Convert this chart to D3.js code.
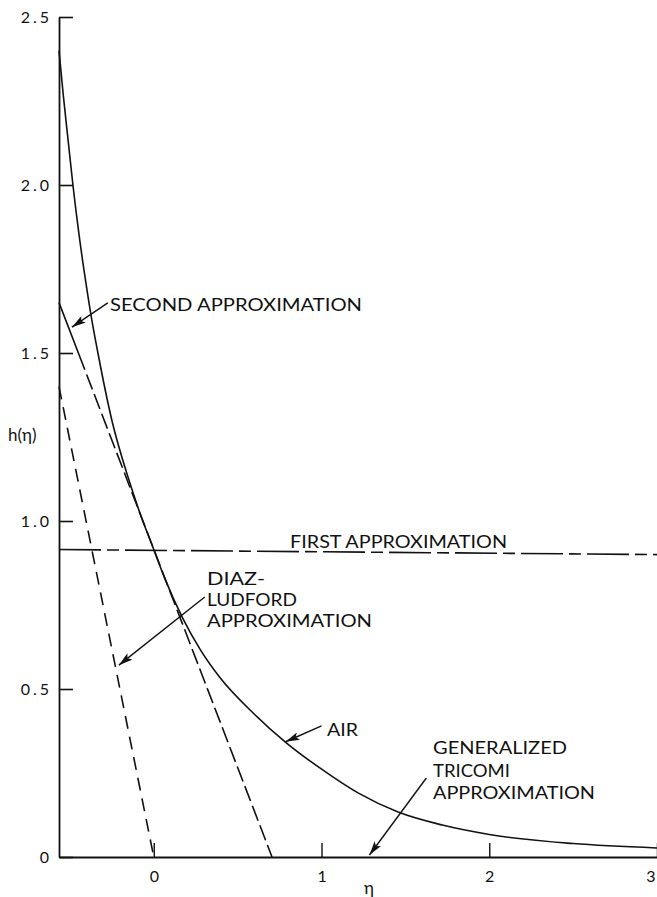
<!DOCTYPE html>
<html>
<head>
<meta charset="utf-8">
<script src="https://cdn.jsdelivr.net/npm/d3@7"></script>
<style>
  html, body { margin: 0; padding: 0; background: #fff; }
  svg { display: block; }
  text { font-family: Lato, "Liberation Sans", sans-serif; fill: #111; }
</style>
</head>
<body>
<svg id="chart" width="657" height="897"></svg>
<script>
// ---------------- data ----------------
const xTicks = [0, 1, 2, 3];
const yTicks = [0, 0.5, 1.0, 1.5, 2.0, 2.5];

// AIR (exact) solution h(eta)
const airEta = [-0.565, -0.54, -0.51, -0.482, -0.445, -0.405, -0.37, -0.333, -0.25, -0.15, -0.08, 0.0, 0.065, 0.173, 0.28, 0.393, 0.6, 0.79, 0.99, 1.22, 1.46, 1.72, 2.0, 2.5, 3.0];
const airH   = [2.40, 2.27, 2.13, 2.00, 1.85, 1.71, 1.60, 1.50, 1.30, 1.125, 1.02, 0.915, 0.83, 0.71, 0.615, 0.535, 0.425, 0.34, 0.265, 0.19, 0.133, 0.095, 0.067, 0.04, 0.027];

// First approximation
const firstEta = [-0.565, 3.0];
const firstH   = [0.915, 0.90];

// Second approximation
const secondEta = [-0.565, 0.705];
const secondH   = [1.65, 0.0];

// Diaz-Ludford approximation
const diazEta = [-0.565, 0.0];
const diazH   = [1.40, 0.0];

// annotation arrows (data units): [fromEta, fromH, toEta, toH]
const arrowSecond  = [-0.274, 1.649, -0.488, 1.577];
const arrowDiaz    = [0.304, 0.774, -0.208, 0.571];
const arrowAir     = [1.0, 0.39, 0.786, 0.343];
const arrowTricomi = [1.625, 0.235, 1.286, 0.006];

// ---------------- chart ----------------
const svg = d3.select("#chart");
const x = d3.scaleLinear().domain([-0.565, 3]).range([59, 657]);
const y = d3.scaleLinear().domain([0, 2.5]).range([857, 17]);

const zip = (a, b) => a.map((v, i) => [v, b[i]]);
const line = d3.line().x(d => x(d[0])).y(d => y(d[1]));
const smooth = d3.line().x(d => x(d[0])).y(d => y(d[1])).curve(d3.curveMonotoneX);

// axes
const yAxis = d3.axisLeft(y).tickValues(yTicks)
  .tickFormat(d => d === 0 ? "0" : d3.format(".1f")(d))
  .tickSizeInner(-14).tickSizeOuter(0).tickPadding(7);
const gy = svg.append("g").attr("transform", `translate(${x(-0.565)},0)`).call(yAxis);
gy.select(".domain").attr("stroke", "#111").attr("stroke-width", 1.8);
gy.selectAll(".tick line").attr("stroke", "#111").attr("stroke-width", 1.6);
gy.selectAll(".tick text").attr("font-size", 16).attr("letter-spacing", 3)
  .style("font-family", "Lato, sans-serif").attr("fill", "#111");

const xAxis = d3.axisBottom(x).tickValues(xTicks).tickFormat(d3.format("d"))
  .tickSizeInner(-14).tickSizeOuter(0).tickPadding(14);
const gx = svg.append("g").attr("transform", `translate(0,${y(0)})`).call(xAxis);
gx.select(".domain").attr("stroke", "#111").attr("stroke-width", 1.8);
gx.selectAll(".tick line").attr("stroke", "#111").attr("stroke-width", 1.4);
gx.selectAll(".tick text").attr("font-size", 16)
  .style("font-family", "Lato, sans-serif").attr("fill", "#111");
// keep the last label inside the picture
gx.selectAll(".tick text").filter(d => d === 3).attr("text-anchor", "end").attr("dx", -2);

// axis titles
svg.append("text").attr("x", 8).attr("y", 441).attr("font-size", 17).text("h(η)");
svg.append("text").attr("x", 364).attr("y", 894).attr("font-size", 17).text("η");

// curves
svg.append("path").datum(zip(airEta, airH)).attr("d", smooth)
  .attr("fill", "none").attr("stroke", "#111").attr("stroke-width", 1.6);

svg.append("path").datum(zip(firstEta, firstH)).attr("d", line)
  .attr("fill", "none").attr("stroke", "#111").attr("stroke-width", 1.6)
  .attr("stroke-dasharray", "42,6,12,6");

const secDash = [72, 5].concat(d3.range(40).flatMap(() => [16, 5])).join(",");
svg.append("path").datum(zip(secondEta, secondH)).attr("d", line)
  .attr("fill", "none").attr("stroke", "#111").attr("stroke-width", 1.6)
  .attr("stroke-dasharray", secDash);

svg.append("path").datum(zip(diazEta, diazH)).attr("d", line)
  .attr("fill", "none").attr("stroke", "#111").attr("stroke-width", 1.6)
  .attr("stroke-dasharray", "13,8");

// arrowhead marker
svg.append("defs").append("marker")
  .attr("id", "ah").attr("viewBox", "0 0 14 8").attr("refX", 14).attr("refY", 4)
  .attr("markerWidth", 14).attr("markerHeight", 8).attr("markerUnits", "userSpaceOnUse")
  .attr("orient", "auto")
  .append("path").attr("d", "M0,0 L14,4 L0,8 L3,4 Z").attr("fill", "#111");

[arrowSecond, arrowDiaz, arrowAir, arrowTricomi].forEach(a => {
  svg.append("line")
    .attr("x1", x(a[0])).attr("y1", y(a[1]))
    .attr("x2", x(a[2])).attr("y2", y(a[3]))
    .attr("stroke", "#111").attr("stroke-width", 1.4)
    .attr("marker-end", "url(#ah)");
});

// labels: [text, x, baseline y, width]
const labels = [
  ["SECOND APPROXIMATION", 110, 311, 252],
  ["FIRST APPROXIMATION", 290, 548, 217],
  ["DIAZ-", 207, 585, 58],
  ["LUDFORD", 207, 606, 90],
  ["APPROXIMATION", 207, 627, 165],
  ["AIR", 327, 736, 31],
  ["GENERALIZED", 433, 754, 134],
  ["TRICOMI", 433, 777, 77],
  ["APPROXIMATION", 433, 799, 162]
];
labels.forEach(l => {
  svg.append("text").attr("x", l[1]).attr("y", l[2])
    .attr("font-size", 17)
    .attr("textLength", l[3]).attr("lengthAdjust", "spacingAndGlyphs")
    .text(l[0]);
});
</script>
</body>
</html>
